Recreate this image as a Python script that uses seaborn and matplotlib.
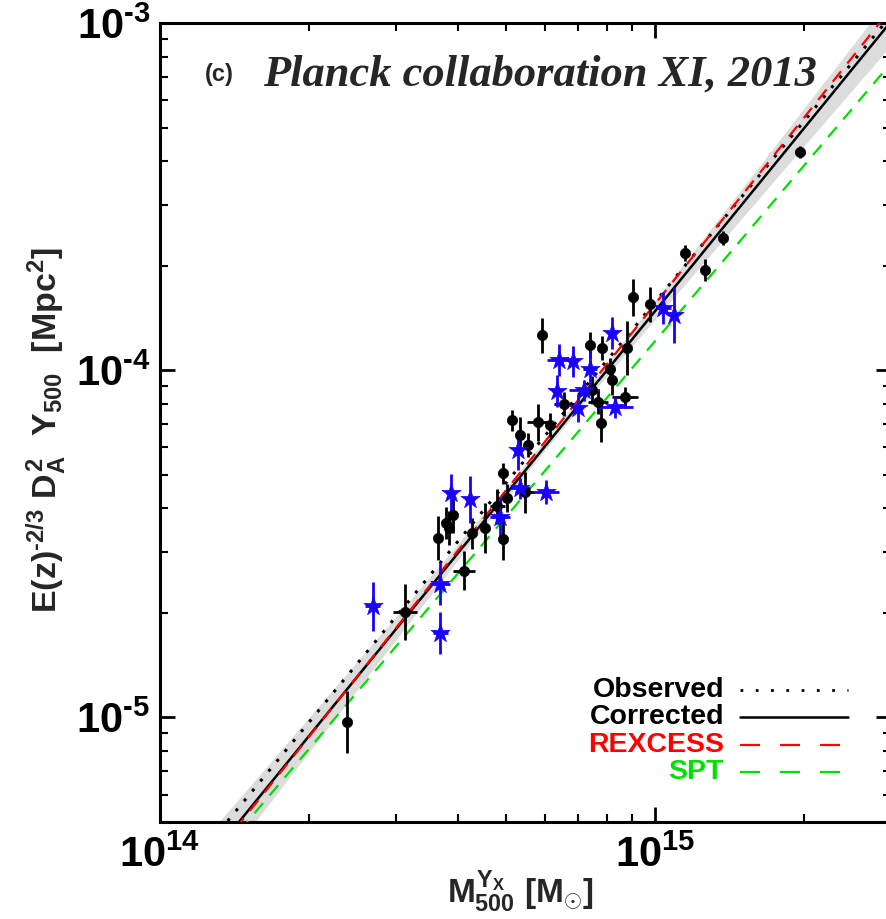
import numpy as np
import pandas as pd
import matplotlib
matplotlib.use("Agg")
import matplotlib.pyplot as plt
import seaborn as sns
from matplotlib.ticker import LogLocator, FuncFormatter, NullFormatter

# Planck-detected clusters: mass [1e14 Msun], Y [1e-5 Mpc^2], log10 errors (dex)
mass_black = [2.39, 3.13, 3.65, 3.78, 3.84, 3.91, 4.11, 4.27, 4.54, 4.80, 4.93, 4.93,
              5.02, 5.14, 5.34, 5.54, 5.80, 5.91, 6.14, 6.55, 7.39, 7.82, 8.78, 8.19,
              7.46, 7.67, 8.70, 7.78, 9.03, 9.77, 11.5, 12.6, 13.7, 19.6, 5.46, 8.11]
y_black = [0.97, 2.01, 3.28, 3.62, 3.51, 3.82, 2.65, 3.39, 3.51, 4.06, 3.26, 5.05,
           4.28, 7.18, 6.50, 6.08, 7.08, 12.6, 6.94, 8.00, 11.8, 11.6, 11.6, 9.36,
           8.76, 8.09, 8.36, 7.03, 16.2, 15.5, 21.7, 19.4, 24.0, 42.5, 4.45, 10.1]
ey_black = [0.09, 0.08, 0.063, 0.046, 0.05, 0.05, 0.055, 0.045, 0.072, 0.05, 0.06, 0.03,
            0.04, 0.03, 0.052, 0.035, 0.053, 0.05, 0.035, 0.035, 0.037, 0.035, 0.078, 0.043,
            0.04, 0.035, 0.03, 0.055, 0.052, 0.05, 0.023, 0.032, 0.02, 0.017, 0.06, 0.03]
ex_black = [0, 0.024, 0, 0, 0, 0, 0.022, 0, 0, 0.015, 0, 0,
            0, 0, 0, 0, 0.022, 0, 0, 0.02, 0, 0, 0, 0,
            0.015, 0.02, 0.027, 0, 0, 0, 0, 0, 0, 0, 0.02, 0]

# SPT clusters
mass_blue = [2.69, 3.68, 3.68, 3.87, 4.23, 4.86, 5.29, 5.34, 6.02, 6.34,
             6.40, 6.83, 8.19, 7.39, 7.19, 6.99, 8.30, 10.4, 10.9]
y_blue = [2.09, 2.43, 1.75, 4.42, 4.25, 3.77, 5.88, 4.57, 4.45, 8.70,
          10.7, 10.6, 12.8, 10.1, 8.76, 7.77, 7.82, 15.1, 14.4]
ey_blue = [0.07, 0.063, 0.06, 0.055, 0.067, 0.06, 0.058, 0.03, 0.035, 0.046,
           0.045, 0.045, 0.045, 0.055, 0.03, 0.04, 0.03, 0.045, 0.08]
ex_blue = [0.015, 0.02, 0.015, 0.01, 0.01, 0.02, 0.01, 0.02, 0.026, 0.01,
           0.025, 0.01, 0.01, 0.015, 0.03, 0.01, 0.036, 0.015, 0.01]

# Scaling relations Y = norm * (M / pivot)^slope
pivot_mass = 6e14
fit_names = ["Observed", "Corrected", "REXCESS", "SPT"]
fit_slopes = [1.731, 1.75, 1.783, 1.68]
fit_norms = [6.49e-5, 6.05e-5, 6.24e-5, 5.14e-5]
fit_colors = ["black", "black", "#ff0000", "#00e000"]
# uncertainty on the corrected relation (dex): normalisation, slope
sig_norm, sig_slope = 0.015, 0.10

xlim = (1e14, 3e15)
ylim = (5e-6, 1e-3)

HYPHEN = "\u2010"

sns.set_theme(style="ticks")
plt.rcParams["font.family"] = ["Liberation Sans", "DejaVu Sans"]
plt.rcParams["mathtext.fontset"] = "custom"
plt.rcParams["mathtext.rm"] = "Liberation Sans:bold"
plt.rcParams["mathtext.it"] = "Liberation Sans:bold"
plt.rcParams["mathtext.bf"] = "Liberation Sans:bold"
plt.rcParams["mathtext.sf"] = "Liberation Sans:bold"

fig = plt.figure(figsize=(8.86, 9.19), dpi=100)
ax = fig.add_axes([160 / 886, 97 / 919, 731.2 / 886, 799 / 919])
ax.set_xscale("log")
ax.set_yscale("log")
ax.set_xlim(*xlim)
ax.set_ylim(*ylim)

# fitted relations
lm = np.linspace(np.log10(xlim[0]) - 0.1, np.log10(xlim[1]) + 0.1, 300)
mgrid = 10 ** lm
dl = lm - np.log10(pivot_mass)
ci = fit_names.index("Corrected")
central = np.log10(fit_norms[ci]) + fit_slopes[ci] * dl
half = np.sqrt(sig_norm ** 2 + (sig_slope * dl) ** 2)
ax.fill_between(mgrid, 10 ** (central - half), 10 ** (central + half),
                color="#dcdcdc", lw=0, zorder=1)

styles = {"Observed": dict(ls=(0, (1.0, 3.2)), lw=2.2),
          "Corrected": dict(ls="-", lw=1.8),
          "REXCESS": dict(ls=(0, (6, 4.5)), lw=1.6),
          "SPT": dict(ls=(0, (6, 4.5)), lw=1.6)}
rows = []
for name, s, n in zip(fit_names, fit_slopes, fit_norms):
    rows.append(pd.DataFrame({"M": mgrid, "Y": n * (mgrid / pivot_mass) ** s, "fit": name}))
fits = pd.concat(rows)
for name, col in zip(fit_names, fit_colors):
    sub = fits[fits["fit"] == name]
    sns.lineplot(data=sub, x="M", y="Y", ax=ax, color=col, zorder=3,
                 estimator=None, sort=False, **styles[name])


def draw_points(mass, yv, ex, ey, color, marker, size):
    m = np.array(mass) * 1e14
    y = np.array(yv) * 1e-5
    ex = np.array(ex)
    ey = np.array(ey)
    xerr = [m - m * 10 ** (-ex), m * 10 ** ex - m]
    yerr = [y - y * 10 ** (-ey), y * 10 ** ey - y]
    ax.errorbar(m, y, xerr=xerr, yerr=yerr, fmt="none", ecolor=color,
                elinewidth=2.0, capsize=0, zorder=4)
    df = pd.DataFrame({"M": m, "Y": y})
    sns.scatterplot(data=df, x="M", y="Y", ax=ax, color=color, marker=marker,
                    s=size, edgecolor=color, linewidth=0.5, zorder=5, legend=False)


draw_points(mass_black, y_black, ex_black, ey_black, "black", "o", 55)
draw_points(mass_blue, y_blue, ex_blue, ey_blue, "#1a00ff", "*", 210)

# axes styling
for sp in ax.spines.values():
    sp.set_linewidth(2.2)
    sp.set_color("black")
ax.tick_params(which="both", direction="in", top=True, right=True, colors="black")
ax.tick_params(which="major", length=11, width=2.0, pad=10, labelsize=30)
ax.tick_params(which="minor", length=6, width=1.5)
ax.xaxis.set_major_locator(LogLocator(base=10, numticks=10))
ax.xaxis.set_minor_locator(LogLocator(base=10, subs=np.arange(2, 10), numticks=20))
ax.yaxis.set_major_locator(LogLocator(base=10, numticks=10))
ax.yaxis.set_minor_locator(LogLocator(base=10, subs=np.arange(2, 10), numticks=20))


def pow10_label(v, pos):
    e = int(round(np.log10(v)))
    exp = (HYPHEN + str(-e)) if e < 0 else str(e)
    return r"$10^{%s}$" % exp


fmt = FuncFormatter(pow10_label)
ax.xaxis.set_major_formatter(fmt)
ax.yaxis.set_major_formatter(fmt)
ax.xaxis.set_minor_formatter(NullFormatter())
ax.yaxis.set_minor_formatter(NullFormatter())
ax.tick_params(axis="y", which="major", pad=7)

ax.set_xlabel(r"$M_{500}^{Y_X}\ [M_{\odot}]$", fontsize=24)
ax.set_ylabel(r"$E(z)^{%s2/3}\ D_A^2\ \ Y_{500}\ \ [\mathrm{Mpc}^2]$" % HYPHEN, fontsize=24.5)
ax.xaxis.set_label_coords((520 - 160) / 731.2, -0.058)
ax.yaxis.set_label_coords(-0.125, 0.49)

# panel title
ax.text(0.0615, 0.935, "(c)", transform=ax.transAxes, fontsize=17,
        fontweight="bold", va="center", ha="left")
ax.text(0.1409, 0.935, "Planck collaboration XI, 2013", transform=ax.transAxes,
        fontsize=32, fontweight="bold", fontstyle="italic",
        family=["Liberation Serif", "DejaVu Serif"], va="center", ha="left")

# legend
leg_y = [0.1652, 0.1314, 0.0964, 0.0626]
leg_text_colors = ["black", "black", "#ff0000", "#00e000"]
leg_styles = {"Observed": dict(ls=(0, (1.0, 4.5)), lw=2.0),
              "Corrected": dict(ls="-", lw=1.8),
              "REXCESS": dict(ls=(0, (9, 9)), lw=1.6),
              "SPT": dict(ls=(0, (9, 9)), lw=1.6)}
for name, yy, tc, lc in zip(fit_names, leg_y, leg_text_colors, fit_colors):
    ax.text(0.7713, yy, name, transform=ax.transAxes, fontsize=20.5,
            fontweight="bold", color=tc, ha="right", va="center")
    ax.plot([0.7932, 0.9409], [yy, yy], transform=ax.transAxes, color=lc,
            zorder=6, **leg_styles[name])

fig.savefig("out.png", dpi=100)
